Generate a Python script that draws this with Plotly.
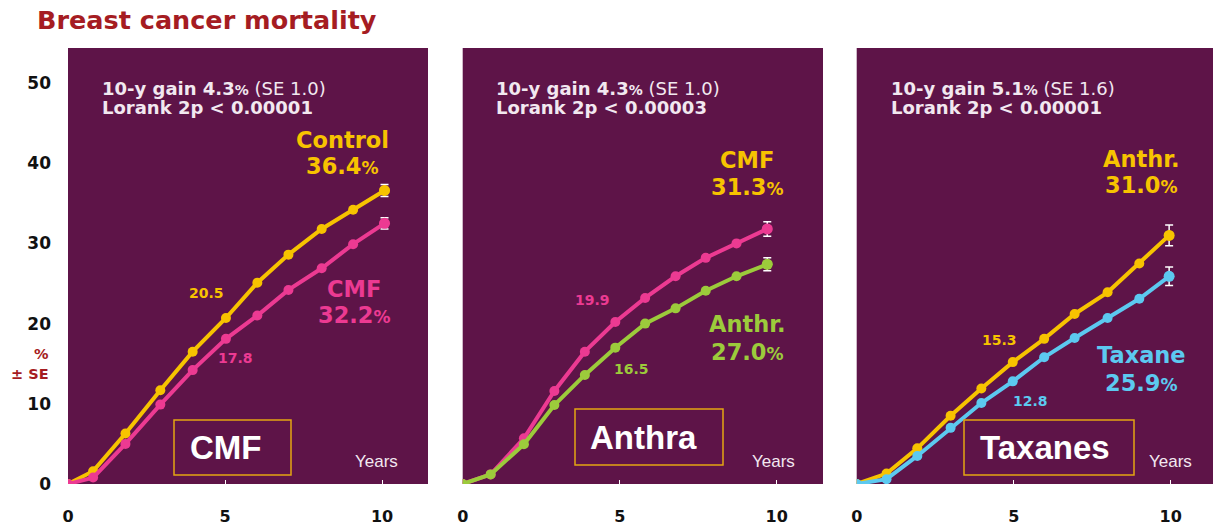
import plotly.graph_objects as go

W, H = 1216, 526

# ---------------- data ----------------
years_p1 = [0, 0.8, 1.83, 2.94, 3.97, 5.03, 6.03, 7.02, 8.08, 9.08, 10.08]
control_p1 = [0, 1.6, 6.3, 11.7, 16.5, 20.7, 25.1, 28.6, 31.8, 34.2, 36.6]
cmf_p1 = [0, 0.8, 5.0, 9.9, 14.2, 18.1, 21.0, 24.2, 26.9, 29.9, 32.5]
se_p1 = [0.75, 0.7]

years_p2 = [0, 0.89, 1.95, 2.92, 3.89, 4.86, 5.81, 6.78, 7.74, 8.72, 9.7]
cmf_p2 = [0, 1.2, 5.7, 11.6, 16.5, 20.2, 23.2, 25.9, 28.2, 30.0, 31.8]
anthr_p2 = [0, 1.2, 4.95, 9.85, 13.6, 17.0, 20.0, 21.9, 24.1, 25.9, 27.4]
se_p2 = [0.9, 0.8]

years_p3 = [0, 0.95, 1.93, 2.99, 3.97, 4.97, 5.97, 6.94, 7.99, 9.0, 9.95]
anthr_p3 = [0, 1.3, 4.45, 8.5, 11.9, 15.2, 18.1, 21.2, 23.9, 27.5, 31.0]
taxane_p3 = [0, 0.6, 3.5, 7.0, 10.1, 12.8, 15.8, 18.2, 20.7, 23.1, 25.9]
se_p3 = [1.3, 1.15]

y_ticks = [0, 10, 20, 30, 40, 50]
x_ticks = [0, 5, 10]

# ---------------- styles ----------------
BG = "#5E1448"
YEL = "#F7C300"
PINK = "#EC3A92"
GREEN = "#9CCB3B"
BLUE = "#5CC9F0"
GOLD = "#E3A512"
TITLE_RED = "#A51C22"
TXT = "#F2E8F0"
FONT = "DejaVu Sans"

def px(x):
    return x / W

def py(y):
    return 1 - y / H

PPY = 31.4
panels = [(68, 428), (462.7, 823), (856.7, 1213)]
y_top_px, y_bot_px = 48, 484
ydom = [py(y_bot_px), py(y_top_px)]
y_range = [0, (y_bot_px - y_top_px) / 8.02]

fig = go.Figure()

def add_series(ax, xs, ys, color, se):
    xa = "x" if ax == 1 else f"x{ax}"
    ya = "y" if ax == 1 else f"y{ax}"
    fig.add_trace(go.Scatter(
        x=[xs[-1]], y=[ys[-1]], xaxis=xa, yaxis=ya, mode="markers",
        marker=dict(size=11, color=color),
        error_y=dict(type="data", array=[se], color="white", thickness=1.5, width=4),
        showlegend=False, hoverinfo="skip"))
    fig.add_trace(go.Scatter(
        x=xs, y=ys, xaxis=xa, yaxis=ya, mode="lines+markers",
        line=dict(color=color, width=4),
        marker=dict(size=10, color=color),
        showlegend=False))

add_series(1, years_p1, control_p1, YEL, se_p1[0])
add_series(1, years_p1, cmf_p1, PINK, se_p1[1])
add_series(2, years_p2, cmf_p2, PINK, se_p2[0])
add_series(2, years_p2, anthr_p2, GREEN, se_p2[1])
add_series(3, years_p3, anthr_p3, YEL, se_p3[0])
add_series(3, years_p3, taxane_p3, BLUE, se_p3[1])

layout = dict(
    width=W, height=H, margin=dict(l=0, r=0, t=0, b=0, autoexpand=False),
    paper_bgcolor="white", plot_bgcolor=BG, showlegend=False,
)
for i, (l, r) in enumerate(panels, start=1):
    xk = "xaxis" if i == 1 else f"xaxis{i}"
    yk = "yaxis" if i == 1 else f"yaxis{i}"
    ya = "y" if i == 1 else f"y{i}"
    xa = "x" if i == 1 else f"x{i}"
    layout[xk] = dict(
        domain=[px(l), px(r)], range=[0, (r - l) / PPY], anchor=ya,
        tickvals=x_ticks, ticktext=[str(t) for t in x_ticks],
        ticks="inside", ticklen=4, tickcolor="white", tickwidth=1,
        showgrid=False, zeroline=False, showline=False, automargin=False,
        tickfont=dict(family=FONT, size=16, color="#111111", weight="bold"),
        ticklabelstandoff=21, fixedrange=True,
    )
    layout[yk] = dict(
        domain=ydom, range=y_range, anchor=xa,
        tickvals=y_ticks, ticktext=[str(t) for t in y_ticks],
        showticklabels=(i == 1), ticks="",
        showgrid=False, zeroline=False, showline=False, automargin=False,
        tickfont=dict(family=FONT, size=17, color="#111111", weight="bold"),
        ticklabelstandoff=16, fixedrange=True,
    )
fig.update_layout(**layout)

ann = []

def text(x, y, s, size, color, family=FONT, bold=True, xanchor="center"):
    ann.append(dict(
        x=px(x), y=py(y), xref="paper", yref="paper", text=s, showarrow=False,
        xanchor=xanchor, yanchor="middle", align="left" if xanchor == "left" else "center",
        font=dict(family=family, size=size, color=color, weight="bold" if bold else "normal")))

# title
text(35, 20, "Breast cancer mortality", 25.5, TITLE_RED, xanchor="left")

# y axis unit labels
text(51, 354, "%", 14.5, TITLE_RED, xanchor="right")
text(51, 374, "± SE", 14.5, TITLE_RED, xanchor="right")

# stats text
stats = [
    (100, "4.3", "1.0", "0.00001"),
    (494, "4.3", "1.0", "0.00003"),
    (889, "5.1", "1.6", "0.00001"),
]
for x0, g, se, p in stats:
    s1 = (f"<b>10-y gain {g}<span style='font-size:14px'>%</span></b> (SE {se})")
    text(x0, 88, s1, 18, TXT, bold=False, xanchor="left")
    text(x0, 108, f"<b>Lorank 2p &lt; {p}</b>", 18, TXT, bold=False, xanchor="left")

def pct(v):
    return f"{v}<span style='font-size:17px'>%</span>"

BIG = 22.5
SMALL = 14

# panel 1 labels
text(342, 140, "Control", BIG, YEL)
text(342, 166, pct("36.4"), BIG, YEL)
text(354, 289, "CMF", BIG, PINK)
text(354, 315, pct("32.2"), BIG, PINK)
text(206, 293, "20.5", SMALL, YEL)
text(235, 358, "17.8", SMALL, PINK)

# panel 2 labels
text(747, 160, "CMF", BIG, YEL)
text(747, 187, pct("31.3"), BIG, YEL)
text(747, 324, "Anthr.", BIG, GREEN)
text(747, 352, pct("27.0"), BIG, GREEN)
text(592, 300, "19.9", SMALL, PINK)
text(631, 369, "16.5", SMALL, GREEN)

# panel 3 labels
text(1141, 159, "Anthr.", BIG, YEL)
text(1141, 185, pct("31.0"), BIG, YEL)
text(1141, 355, "Taxane", BIG, BLUE)
text(1141, 383, pct("25.9"), BIG, BLUE)
text(999, 340, "15.3", SMALL, YEL)
text(1030, 401, "12.8", SMALL, BLUE)

# boxes with regimen names
boxes = [
    (174, 291, 420, 475, "CMF", 225),
    (575, 723, 409, 465, "Anthra", 643),
    (964, 1134, 420, 475, "Taxanes", 1045),
]
shapes = []
for x0, x1, y0, y1, label, cx in boxes:
    shapes.append(dict(type="rect", xref="paper", yref="paper",
                       x0=px(x0), x1=px(x1), y0=py(y1), y1=py(y0),
                       line=dict(color=GOLD, width=1.5), fillcolor="rgba(0,0,0,0)"))
    text(cx, (y0 + y1) / 2, label, 33, "white", family="Liberation Sans")

# Years labels
for cx in (376, 773, 1170):
    text(cx, 461, "Years", 17, TXT, family="Liberation Sans", bold=False)

fig.update_layout(annotations=ann, shapes=shapes)
fig.write_html(
    "out.html",
    config={"displayModeBar": False},
    post_script="document.body.style.margin='0';document.body.style.padding='0';"
                "document.documentElement.style.overflow='hidden';",
)
